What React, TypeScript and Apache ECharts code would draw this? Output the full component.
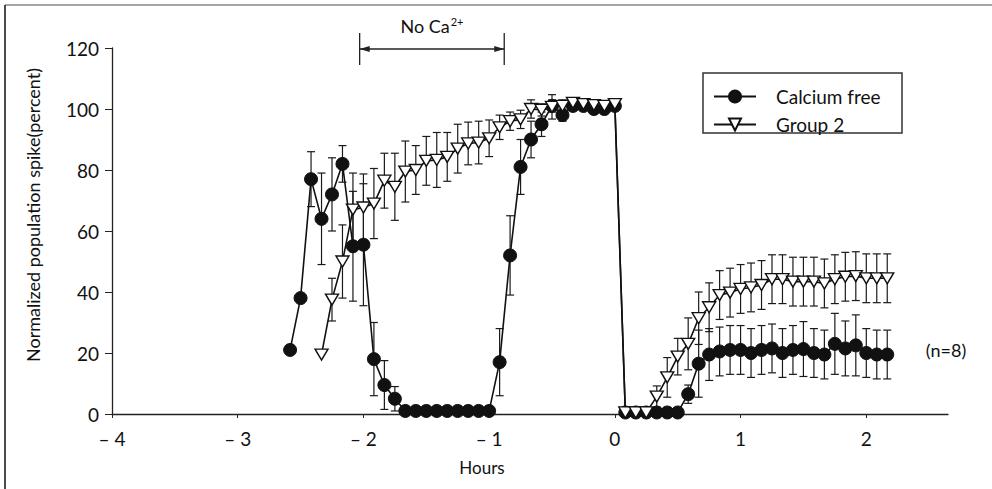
import React, { useEffect, useRef } from "react";
import * as echarts from "echarts";

const FONT = 'Lato, "Open Sans", "DejaVu Sans", sans-serif';

// time in minutes relative to Ca2+ return (0 h)
const CA_TIMES = [-155, -150, -145, -140, -135, -130, -125, -120, -115, -110, -105, -100, -95, -90, -85, -80, -75, -70, -65, -60, -55, -50, -45, -40, -35, -30, -25, -20, -15, -10, -5, 0, 5, 10, 15, 20, 25, 30, 35, 40, 45, 50, 55, 60, 65, 70, 75, 80, 85, 90, 95, 100, 105, 110, 115, 120, 125, 130];
const CA_VALUES = [21, 38, 77, 64, 72, 82, 55, 55.5, 18, 9.5, 5, 1, 1, 1, 1, 1, 1, 1, 1, 1, 17, 52, 81, 90, 95, 101, 98, 101, 101, 100, 100, 101, 0.5, 0.5, 0.5, 0.5, 0.5, 0.5, 6.5, 16.5, 19.5, 20.5, 21, 21, 20, 21, 21.5, 20, 21, 21.3, 20, 19.5, 23, 21.5, 22.5, 20, 19.5, 19.5];
const CA_ERRORS = [0, 0, 9, 15, 12, 6, 18, 20, 12, 8, 4, 0, 0, 0, 0, 0, 0, 0, 0, 0, 11, 13, 9, 6, 4, 2, 2, 1, 1, 1, 1, 0, 0, 0, 0, 0, 0, 0, 3, 11, 8.5, 8, 8, 8, 8, 8, 8, 8, 8, 9, 8, 8, 10, 9, 10, 8, 8, 8];

const G2_TIMES = [-140, -135, -130, -125, -120, -115, -110, -105, -100, -95, -90, -85, -80, -75, -70, -65, -60, -55, -50, -45, -40, -35, -30, -25, -20, -15, -10, -5, 0, 5, 10, 15, 20, 25, 30, 35, 40, 45, 50, 55, 60, 65, 70, 75, 80, 85, 90, 95, 100, 105, 110, 115, 120, 125, 130];
const G2_VALUES = [19.5, 37.5, 50, 67, 67.7, 69, 76.5, 74.5, 79.5, 80, 83, 83.3, 84.3, 87, 88.7, 89, 90.4, 94, 96, 96.6, 100, 99.7, 100.7, 101, 102, 101.6, 101.3, 101, 101.6, 0.5, 0.5, 0.5, 5.7, 12, 18.8, 23, 31.4, 35, 39, 39.8, 41, 41.5, 42.3, 44.2, 44.2, 43.4, 43.4, 43.4, 42.8, 44.2, 45, 45.2, 44.5, 44.5, 44.5];
const G2_ERRORS = [0, 7, 12, 12, 11, 11.5, 9, 11, 10, 8, 8, 9, 8, 8, 7, 7, 6, 4, 3, 3, 3, 2, 4, 2, 1, 1, 1, 1, 1, 0, 0, 0, 3.5, 6.5, 6, 8.5, 8.6, 8, 8, 8, 8, 8, 8, 8, 8, 8, 8, 8, 8, 8, 8, 8, 8, 8, 8];

const X_TICKS = [-4, -3, -2, -1, 0, 1, 2];
const Y_TICKS = [0, 20, 40, 60, 80, 100, 120];
const NO_CA_START = -2.03;
const NO_CA_END = -0.88;

const SERIES_NAMES = ["Calcium free", "Group 2"];

export default function App() {
  const ref = useRef<HTMLDivElement>(null);

  useEffect(() => {
    const chart = echarts.init(ref.current as HTMLDivElement, null, { renderer: "svg" });

    const toPairs = (t: number[], v: number[]) => t.map((m, i) => [m / 60, v[i]]);
    const errData = (t: number[], v: number[], e: number[]) =>
      t.map((m, i) => [m / 60, v[i] - e[i], v[i] + e[i], e[i]]).filter((d) => d[3] > 0);

    const errSeries = (name: string, data: number[][]) => ({
      type: "custom",
      name,
      data,
      z: 1,
      silent: true,
      encode: { x: 0, y: [1, 2] },
      renderItem: (params: any, api: any) => {
        const x = api.value(0);
        const p1 = api.coord([x, Math.max(0, api.value(1))]);
        const p2 = api.coord([x, api.value(2)]);
        const w = 4;
        const style = { stroke: "#1a1a1a", lineWidth: 1.2 };
        return {
          type: "group",
          children: [
            { type: "line", shape: { x1: p1[0], y1: p1[1], x2: p2[0], y2: p2[1] }, style },
            { type: "line", shape: { x1: p1[0] - w, y1: p1[1], x2: p1[0] + w, y2: p1[1] }, style },
            { type: "line", shape: { x1: p2[0] - w, y1: p2[1], x2: p2[0] + w, y2: p2[1] }, style },
          ],
        };
      },
    });

    chart.setOption({
      animation: false,
      backgroundColor: "#ffffff",
      textStyle: { fontFamily: FONT, color: "#111" },
      grid: { left: 112, right: 44, top: 48, bottom: 75, containLabel: false, outerBoundsMode: "none" },
      legend: {
        data: SERIES_NAMES,
        orient: "vertical",
        left: 713,
        top: 87,
        padding: 0,
        itemWidth: 42,
        itemHeight: 15,
        itemGap: 9,
        textStyle: { fontSize: 19, color: "#111", fontFamily: FONT, lineHeight: 15, padding: [0, 0, 0, 15] },
      },
      xAxis: {
        type: "value",
        min: -4,
        max: 2.65,
        interval: 1,
        splitLine: { show: false },
        axisLine: { onZero: false, lineStyle: { color: "#222", width: 1.3 } },
        axisTick: { show: true, length: 4, customValues: X_TICKS, lineStyle: { color: "#222" } },
        axisLabel: {
          customValues: X_TICKS,
          fontSize: 19,
          color: "#111",
          margin: 15,
          fontFamily: FONT,
          formatter: (v: number) => (v < 0 ? "\u2013 " + Math.abs(v) : String(v)),
        },
      },
      yAxis: {
        type: "value",
        min: 0,
        max: 120,
        interval: 20,
        splitLine: { show: false },
        axisLine: { show: true, onZero: false, lineStyle: { color: "#222", width: 1.3 } },
        axisTick: { show: true, length: 7, customValues: Y_TICKS, lineStyle: { color: "#222" } },
        axisLabel: { fontSize: 19, color: "#111", margin: 13, fontFamily: FONT, customValues: Y_TICKS },
      },
      series: [
        errSeries("Calcium free SEM", errData(CA_TIMES, CA_VALUES, CA_ERRORS)),
        errSeries("Group 2 SEM", errData(G2_TIMES, G2_VALUES, G2_ERRORS)),
        {
          type: "line",
          name: SERIES_NAMES[0],
          data: toPairs(CA_TIMES, CA_VALUES),
          z: 3,
          symbol: "circle",
          symbolSize: 13,
          showAllSymbol: true,
          lineStyle: { color: "#111", width: 1.6 },
          itemStyle: { color: "#111", borderColor: "#111", borderWidth: 1 },
        },
        {
          type: "line",
          name: SERIES_NAMES[1],
          data: toPairs(G2_TIMES, G2_VALUES),
          z: 4,
          symbol: "triangle",
          symbolRotate: 180,
          symbolSize: [13, 11],
          showAllSymbol: true,
          lineStyle: { color: "#111", width: 1.6 },
          itemStyle: { color: "#ffffff", borderColor: "#111", borderWidth: 1.4 },
        },
      ],
    });

    const xa = chart.convertToPixel({ xAxisIndex: 0 }, NO_CA_START) as number;
    const xb = chart.convertToPixel({ xAxisIndex: 0 }, NO_CA_END) as number;
    const top = chart.convertToPixel({ yAxisIndex: 0 }, 120) as number;
    const ay = top + 1;
    const lineStyle = { stroke: "#222", lineWidth: 1.3 };

    chart.setOption({
      graphic: [
        { type: "line", shape: { x1: 5, y1: 5, x2: 992, y2: 5 }, style: { stroke: "#888", lineWidth: 1.5 } },
        { type: "line", shape: { x1: 5, y1: 5, x2: 5, y2: 489 }, style: { stroke: "#111", lineWidth: 1.5 } },
        { type: "rect", shape: { x: 703, y: 73, width: 199, height: 60 }, style: { fill: "none", stroke: "#333", lineWidth: 1.5 } },
        { type: "line", shape: { x1: xa, y1: top - 15, x2: xa, y2: top + 17 }, style: lineStyle },
        { type: "line", shape: { x1: xb, y1: top - 15, x2: xb, y2: top + 17 }, style: lineStyle },
        { type: "line", shape: { x1: xa, y1: ay, x2: xb, y2: ay }, style: lineStyle },
        { type: "polygon", shape: { points: [[xa, ay], [xa + 10, ay - 3], [xa + 10, ay + 3]] }, style: { fill: "#222" } },
        { type: "polygon", shape: { points: [[xb, ay], [xb - 10, ay - 3], [xb - 10, ay + 3]] }, style: { fill: "#222" } },
        {
          type: "text",
          x: (xa + xb) / 2,
          y: top - 22,
          style: {
            text: "{a|No Ca}{b|2+}",
            align: "center",
            verticalAlign: "middle",
            rich: {
              a: { fontSize: 18, fontFamily: FONT, fill: "#111", color: "#111" },
              b: { fontSize: 11, fontFamily: FONT, fill: "#111", color: "#111", padding: [0, 0, 9, 1] },
            },
          },
        },
        {
          type: "text",
          x: 33,
          y: 215,
          rotation: Math.PI / 2,
          style: {
            text: "Normalized population spike(percent)",
            fontSize: 18,
            fontFamily: FONT,
            fill: "#111",
            align: "center",
            verticalAlign: "middle",
          },
        },
        {
          type: "text",
          x: 482,
          y: 467,
          style: { text: "Hours", fontSize: 17, fontFamily: FONT, fill: "#111", align: "center", verticalAlign: "middle" },
        },
        {
          type: "text",
          x: 946,
          y: 350,
          style: { text: "(n=8)", fontSize: 18, fontFamily: FONT, fill: "#111", align: "center", verticalAlign: "middle" },
        },
      ],
    });

    return () => chart.dispose();
  }, []);

  return (
    <div
      ref={ref}
      style={{ position: "fixed", left: 0, top: 0, width: 992, height: 489, background: "#fff" }}
    />
  );
}
